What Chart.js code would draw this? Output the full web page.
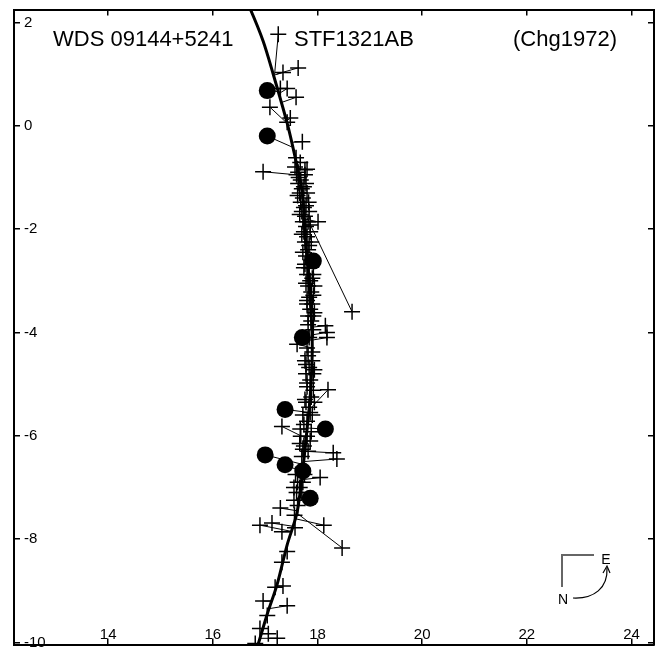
<!DOCTYPE html>
<html>
<head>
<meta charset="utf-8">
<script src="https://cdn.jsdelivr.net/npm/chart.js@4.4.1/dist/chart.umd.min.js"></script>
<style>
  html, body { margin: 0; padding: 0; background: #fff; }
  canvas { display: block; }
</style>
</head>
<body>
<canvas id="orbitChart" width="665" height="654"></canvas>
<script>
// fitted orbit (thick curve)
const orbitX = [16.55, 16.71, 16.96, 17.15, 17.42, 17.57, 17.71, 17.76, 17.86, 17.90,
                17.86, 17.80, 17.72, 17.61, 17.42, 17.23, 17.04, 16.87, 16.78];
const orbitY = [2.60, 2.27, 1.64, 1.01, 0.05, -0.60, -1.29, -2.05, -3.33, -4.29,
                -5.24, -5.87, -6.64, -7.48, -8.11, -8.87, -9.45, -10.02, -10.30];

// micrometer measures (crosses) and where they fall on the orbit
const crossX = [
  17.25, 17.63, 17.34, 17.29, 17.42, 17.59, 17.09, 17.48, 17.42, 17.71, 16.96, 17.59, 17.67, 17.76, 17.57, 17.63, 17.80,
  17.60, 17.76, 17.68, 17.63, 17.78, 17.70, 17.66, 17.80, 17.72, 17.68, 17.83, 17.74, 17.70, 17.84, 17.76, 17.72,
  17.82, 18.01, 17.78, 17.74, 17.86, 17.80, 17.76, 17.88, 17.82, 17.78, 17.84, 17.74, 17.80, 17.92, 17.86, 17.82,
  17.94, 17.88, 17.84, 17.90, 17.80, 17.86, 18.66, 17.82, 17.92, 17.88, 18.15, 18.18, 18.18, 17.84, 17.61,
  17.82, 17.76, 17.90, 17.84, 17.78, 17.92, 17.86, 17.80, 18.20, 17.88, 17.78, 17.94, 17.84, 17.72, 17.90, 17.80,
  17.32, 17.67, 17.80, 17.68, 17.86, 17.74, 17.72, 18.30, 18.37, 17.70,
  17.58, 17.75, 18.05, 17.62, 17.72, 17.55, 17.66, 17.60, 17.70, 17.55, 17.62, 17.29, 17.56, 17.13, 16.90,
  17.32, 17.57, 18.12, 18.47, 17.42, 17.32, 17.34, 17.19, 17.42, 16.96, 17.04, 16.90, 17.06, 17.23, 16.81,
  17.64, 17.74, 17.62, 17.78, 17.66, 17.86, 17.70, 17.84, 17.72, 17.88, 17.76, 17.90, 17.78, 17.92, 17.80,
  17.94, 17.82, 17.92, 17.80, 17.90, 17.78, 17.94, 17.80, 17.92, 17.76, 17.86, 17.74, 17.88, 17.66, 17.82
];
const crossY = [
  1.77, 1.12, 1.03, 0.72, 0.72, 0.55, 0.36, 0.15, 0.07, -0.31, -0.89, -0.62, -0.71, -0.85, -0.80, -0.90, -0.84,
  -0.95, -0.95, -1.05, -1.12, -1.12, -1.22, -1.30, -1.30, -1.40, -1.48, -1.48, -1.58, -1.66, -1.66, -1.75, -1.86,
  -1.86, -1.86, -1.95, -2.05, -2.05, -2.15, -2.25, -2.25, -2.40, -2.52, -2.75, -2.75, -2.88, -2.88, -3.00, -3.10,
  -3.10, -3.22, -3.32, -3.45, -3.45, -3.55, -3.60, -3.68, -3.68, -3.78, -3.87, -4.00, -4.10, -4.10, -4.23,
  -4.45, -4.55, -4.55, -4.68, -4.80, -4.80, -4.92, -5.05, -5.11, -5.25, -5.35, -5.35, -5.45, -5.60, -5.60, -5.72,
  -5.82, -5.87, -6.01, -6.01, -6.10, -6.20, -6.26, -6.33, -6.45, -6.40,
  -6.75, -6.75, -6.81, -6.90, -6.90, -7.00, -7.00, -7.10, -7.10, -7.25, -7.35, -7.40, -7.54, -7.69, -7.73,
  -7.86, -7.78, -7.73, -8.17, -8.24, -8.45, -8.91, -8.93, -9.29, -9.20, -9.48, -9.73, -9.83, -9.92, -10.02,
  -1.00, -1.18, -1.35, -1.55, -1.72, -1.92, -2.10, -2.32, -2.45, -2.60, -2.68, -2.95, -3.05, -3.28, -3.38,
  -3.62, -3.85, -3.95, -4.30, -4.38, -4.62, -4.72, -4.98, -5.12, -5.30, -5.55, -5.78, -5.92, -6.15, -6.30
];
const crossFitX = [
  17.18, 17.22, 17.17, 17.24, 17.26, 17.31, 17.47, 17.40, 17.42, 17.50, 17.60, 17.56, 17.58, 17.62, 17.61, 17.63, 17.62,
  17.67, 17.67, 17.67, 17.67, 17.67, 17.67, 17.67, 17.67, 17.73, 17.73, 17.73, 17.73, 17.73, 17.73, 17.73, 17.73,
  17.73, 17.74, 17.77, 17.77, 17.77, 17.77, 17.77, 17.77, 17.77, 17.77, 17.83, 17.83, 17.83, 17.83, 17.83, 17.83,
  17.83, 17.83, 17.87, 17.87, 17.87, 17.87, 17.76, 17.87, 17.87, 17.87, 17.88, 17.88, 17.89, 17.89, 17.90,
  17.89, 17.89, 17.89, 17.89, 17.88, 17.88, 17.88, 17.87, 17.84, 17.86, 17.85, 17.85, 17.84, 17.83, 17.83, 17.81,
  17.78, 17.80, 17.79, 17.79, 17.77, 17.76, 17.75, 17.74, 17.73, 17.73,
  17.71, 17.71, 17.70, 17.69, 17.69, 17.67, 17.67, 17.65, 17.65, 17.63, 17.62, 17.60, 17.61, 17.52, 17.50,
  17.50, 17.52, 17.55, 17.61, 17.40, 17.33, 17.23, 17.23, 17.05, 17.14, 17.04, 16.96, 16.94, 16.91, 16.88,
  17.66, 17.69, 17.71, 17.73, 17.74, 17.76, 17.77, 17.79, 17.80, 17.81, 17.82, 17.84, 17.84, 17.86, 17.87,
  17.88, 17.89, 17.89, 17.90, 17.90, 17.89, 17.89, 17.88, 17.87, 17.86, 17.84, 17.81, 17.80, 17.77, 17.75
];
const crossFitY = [
  1.00, 1.00, 0.98, 0.70, 0.62, 0.45, 0.00, 0.08, 0.02, -0.32, -0.95, -0.60, -0.68, -0.82, -0.80, -0.88, -0.85,
  -0.95, -0.95, -1.05, -1.12, -1.12, -1.22, -1.30, -1.30, -1.40, -1.48, -1.48, -1.58, -1.66, -1.66, -1.75, -1.86,
  -1.86, -1.80, -1.95, -2.05, -2.05, -2.15, -2.25, -2.25, -2.40, -2.52, -2.75, -2.75, -2.88, -2.88, -3.00, -3.10,
  -3.10, -3.22, -3.32, -3.45, -3.45, -3.55, -1.70, -3.68, -3.68, -3.78, -3.90, -4.05, -4.15, -4.10, -4.30,
  -4.45, -4.55, -4.55, -4.68, -4.80, -4.80, -4.92, -5.05, -5.50, -5.25, -5.35, -5.35, -5.45, -5.60, -5.60, -5.72,
  -6.05, -5.87, -6.01, -6.01, -6.10, -6.20, -6.26, -6.30, -6.50, -6.40,
  -6.75, -6.75, -6.85, -6.90, -6.90, -7.00, -7.00, -7.10, -7.10, -7.25, -7.35, -7.45, -7.54, -7.75, -7.85,
  -7.86, -7.78, -7.60, -7.50, -8.24, -8.45, -8.91, -8.93, -9.35, -9.20, -9.48, -9.73, -9.83, -9.92, -10.02,
  -1.00, -1.18, -1.35, -1.55, -1.72, -1.92, -2.10, -2.32, -2.45, -2.60, -2.68, -2.95, -3.05, -3.28, -3.38,
  -3.62, -3.85, -3.95, -4.30, -4.38, -4.62, -4.72, -4.98, -5.12, -5.30, -5.55, -5.78, -5.92, -6.15, -6.30
];

// other measures (filled circles) and their orbit positions
const dotX = [17.04, 17.04, 17.92, 17.71, 17.38, 18.15, 17.00, 17.38, 17.72, 17.86];
const dotY = [0.68, -0.20, -2.62, -4.10, -5.49, -5.87, -6.37, -6.56, -6.68, -7.21];
const dotFitX = [17.27, 17.51, 17.79, 17.88, 17.84, 17.80, 17.70, 17.71, 17.71, 17.64];
const dotFitY = [0.66, -0.41, -2.55, -4.15, -5.55, -5.85, -6.55, -6.70, -6.75, -7.20];

const xRange = [12.2, 24.43];
const yRange = [-10.04, 2.25];
const tickStep = 2;

const titleLeft = 'WDS 09144+5241';
const titleMid = 'STF1321AB';
const titleRight = '(Chg1972)';

const FONT = '"Liberation Sans", Arial, Helvetica, sans-serif';

function toPoints(xs, ys) {
  return xs.map((x, i) => ({ x: x, y: ys[i] }));
}

function residualSegments(xs, ys, fx, fy) {
  const pts = [];
  xs.forEach((x, i) => {
    pts.push({ x: x, y: ys[i] }, { x: fx[i], y: fy[i] }, { x: fx[i], y: null });
  });
  return pts;
}

function frameAxis(axis, position, range, showLabels, labelOpts) {
  const horizontal = axis === 'x';
  return {
    type: 'linear',
    axis: axis,
    position: position,
    min: range[0],
    max: range[1],
    grid: { drawOnChartArea: false, drawTicks: true, tickLength: -6, color: '#000', lineWidth: 1.5 },
    border: { display: true, color: '#000', width: 2 },
    ticks: Object.assign({
      display: showLabels,
      stepSize: tickStep,
      includeBounds: false,
      autoSkip: false,
      maxRotation: 0,
      color: '#000',
      font: { family: FONT, size: 15 }
    }, labelOpts || {}),
    afterFit: (scale) => {
      if (horizontal) scale.height = 0; else scale.width = 0;
      scale.paddingLeft = scale.paddingRight = scale.paddingTop = scale.paddingBottom = 0;
    }
  };
}

const textPlugin = {
  id: 'textAndCompass',
  afterDraw(chart) {
    const ctx = chart.ctx;
    ctx.save();
    ctx.fillStyle = '#000';
    ctx.font = '22px ' + FONT;
    ctx.textBaseline = 'alphabetic';
    ctx.textAlign = 'left';
    ctx.fillText(titleLeft, 53, 46);
    ctx.fillText(titleMid, 294, 46);
    ctx.textAlign = 'right';
    ctx.fillText(titleRight, 617, 46);

    // compass
    ctx.strokeStyle = '#666';
    ctx.lineWidth = 2;
    ctx.beginPath();
    ctx.moveTo(562, 587);
    ctx.lineTo(562, 555);
    ctx.lineTo(594, 555);
    ctx.stroke();

    ctx.strokeStyle = '#000';
    ctx.lineWidth = 1.2;
    ctx.beginPath();
    ctx.moveTo(573, 598);
    ctx.bezierCurveTo(594, 599, 608, 588, 607, 568);
    ctx.stroke();
    ctx.beginPath();
    ctx.moveTo(603, 573);
    ctx.lineTo(607, 566);
    ctx.lineTo(610, 573);
    ctx.stroke();

    ctx.font = '14px ' + FONT;
    ctx.textAlign = 'center';
    ctx.textBaseline = 'middle';
    ctx.fillText('N', 563, 600);
    ctx.fillText('E', 606, 560);
    ctx.restore();
  }
};

new Chart(document.getElementById('orbitChart'), {
  type: 'scatter',
  data: {
    datasets: [
      {
        label: 'orbit',
        data: toPoints(orbitX, orbitY),
        showLine: true,
        borderColor: '#000',
        borderWidth: 3,
        pointRadius: 0,
        tension: 0.3,
        order: 0
      },
      {
        label: 'other',
        data: toPoints(dotX, dotY),
        pointStyle: 'circle',
        pointRadius: 8.5,
        backgroundColor: '#000',
        borderColor: '#000',
        borderWidth: 0,
        order: 1
      },
      {
        label: 'micrometer',
        data: toPoints(crossX, crossY),
        pointStyle: 'cross',
        pointRadius: 8,
        borderColor: '#000',
        borderWidth: 1.5,
        order: 2
      },
      {
        label: 'o-c',
        data: residualSegments(crossX, crossY, crossFitX, crossFitY)
          .concat(residualSegments(dotX, dotY, dotFitX, dotFitY)),
        showLine: true,
        spanGaps: false,
        borderColor: '#000',
        borderWidth: 1,
        pointRadius: 0,
        order: 3
      }
    ]
  },
  options: {
    responsive: false,
    animation: false,
    events: [],
    layout: { padding: { left: 14, top: 8, right: 11, bottom: 3 } },
    plugins: {
      legend: { display: false },
      tooltip: { enabled: false }
    },
    scales: {
      x: frameAxis('x', 'bottom', xRange, true, { mirror: true, padding: 1 }),
      x2: frameAxis('x', 'top', xRange, false),
      y: frameAxis('y', 'left', yRange, true, { mirror: true, padding: 10 }),
      y2: frameAxis('y', 'right', yRange, false)
    }
  },
  plugins: [textPlugin]
});
</script>
</body>
</html>
